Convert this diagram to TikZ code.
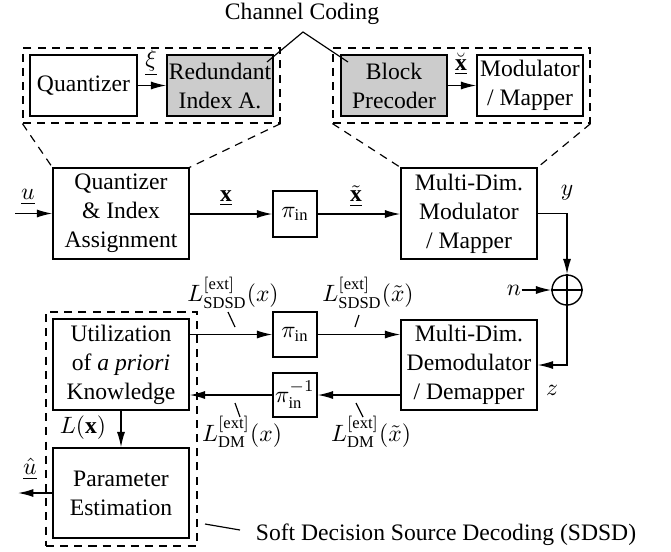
\documentclass[tikz,border=0pt]{standalone}
\usepackage{fontspec}
\setmainfont{Liberation Serif}
\usetikzlibrary{arrows.meta}
\begin{document}
\begin{tikzpicture}[x=0.4237pt,y=-0.4237pt,
  font=\fontsize{10}{12.3}\selectfont,
  box/.style 2 args={draw, line width=0.6pt, inner sep=0pt, align=center,
    minimum width={#1*0.4237pt}, minimum height={#2*0.4237pt}},
  graybox/.style 2 args={box={#1}{#2}, fill=black!20},
  dbox/.style 2 args={draw, dash pattern=on 3.4pt off 2.6pt, line width=0.5pt, inner sep=0pt,
    minimum width={#1*0.4237pt}, minimum height={#2*0.4237pt}},
  dline/.style={dash pattern=on 3.4pt off 2.6pt, line width=0.5pt},
  conn/.style={line width=0.6pt},
  arr/.style={conn, -{Latex[length=6.5pt,width=3.4pt]}},
  lbl/.style={inner sep=0pt},
  tick/.style={line width=0.5pt}
  ]
\useasboundingbox (0,0) rectangle (671,551);

% top detail boxes
\node[dbox={257}{75}] (dashL) at (151.5,85.5) {};
\node[dbox={257}{75}] (dashR) at (461.5,85.5) {};
\node[box={107}{61}] (qtop) at (83.5,85.5) {Quantizer};
\node[graybox={106}{61}] (ria) at (220,85.5) {Redundant\\Index A.};
\node[graybox={106}{61}] (bp) at (394,85.5) {Block\\Precoder};
\node[box={106}{61}] (mmtop) at (530,85.5) {Modulator\\/ Mapper};

\node[lbl] (cc) at (302,14) {Channel Coding};
\coordinate (apex) at (303,32);
\coordinate (ccL) at (267,62);
\coordinate (ccR) at (348,62);
\draw[tick] (ccL) -- (apex) -- (ccR);

\node[lbl] (xi) at (151,63) {$\underline{\xi}$};
\node[lbl] (xbr) at (461,64) {$\underline{\breve{\mathbf{x}}}$};
\draw[arr] (qtop.east |- ria.west) -- (ria.west);
\draw[arr] (bp.east |- mmtop.west) -- (mmtop.west);

% main transmitter row
\node[box={136}{91}] (qia) at (121,213.5) {Quantizer\\\& Index\\Assignment};
\node[box={44}{46}] (pi1) at (295,214) {$\pi_{\mathrm{in}}$};
\node[box={136}{91}] (mod) at (469,213.5) {Multi-Dim.\\Modulator\\/ Mapper};

\draw[dline] (dashL.south west) -- (qia.north west);
\draw[dline] (dashL.south east) -- (qia.north east);
\draw[dline] (dashR.south west) -- (mod.north west);
\draw[dline] (dashR.south east) -- (mod.north east);

\coordinate (uin) at (15,213.5);
\node[lbl] (u) at (28,197) {$\underline{u}$};
\node[lbl] (xl) at (226,198) {$\underline{\mathbf{x}}$};
\node[lbl] (xt) at (356,196) {$\underline{\tilde{\mathbf{x}}}$};
\node[lbl] (y) at (567,193) {$y$};
\draw[arr] (uin) -- (qia.west);
\draw[arr] (qia.east |- pi1.west) -- (pi1.west);
\draw[arr] (pi1.east) -- (pi1.east -| mod.west);

% channel
\node[draw, circle, minimum size=12.7pt, inner sep=0pt, line width=0.6pt] (plus) at (567,290) {};
\draw[conn] (plus.north) -- (plus.south) (plus.west) -- (plus.east);
\node[lbl] (n) at (514,290) {$n$};
\node[lbl] (z) at (552,390) {$z$};
\draw[arr] (mod.east) -- (mod.east -| plus) -- (plus.north);
\draw[arr] (n.east) -- (plus.west);

% receiver
\node[box={136}{90}] (demod) at (469,365) {Multi-Dim.\\Demodulator\\/ Demapper};
\draw[arr] (plus.south) -- (plus.south |- demod.east) -- (demod.east);

\node[box={44}{45}] (pi2) at (295,334.5) {$\pi_{\mathrm{in}}$};
\node[box={44}{44}] (pi3) at (295,395) {$\pi_{\mathrm{in}}^{-1}$};
\node[box={136}{91}] (util) at (121,364.5) {Utilization\\of \textit{a priori}\\Knowledge};
\node[box={136}{90}] (param) at (121,493) {Parameter\\Estimation};
\node[dbox={151}{234}] (dashB) at (121.5,429) {};

\draw[arr] (util.east |- pi2.west) -- (pi2.west);
\draw[arr] (pi2.east) -- (pi2.east -| demod.west);
\draw[arr] (demod.west |- pi3.east) -- (pi3.east);
\draw[arr] (pi3.west) -- (pi3.west -| util.east);
\draw[arr] (util.south) -- (param.north);
\coordinate (uout) at (18,493);
\draw[arr] (param.west) -- (uout);

\node[lbl] (Lx) at (83,428) {$L(\mathbf{x})$};
\node[lbl] (uh) at (30,469) {$\underline{\hat{u}}$};

\node[lbl] (ls1) at (233,293) {$L_{\mathrm{SDSD}}^{[\mathrm{ext}]}(x)$};
\node[lbl] (ls2) at (368,293) {$L_{\mathrm{SDSD}}^{[\mathrm{ext}]}(\tilde{x})$};
\node[lbl] (ld1) at (242,432) {$L_{\mathrm{DM}}^{[\mathrm{ext}]}(x)$};
\node[lbl] (ld2) at (371,432) {$L_{\mathrm{DM}}^{[\mathrm{ext}]}(\tilde{x})$};
\coordinate (t1a) at (228,312); \coordinate (t1b) at (235,327);
\coordinate (t2a) at (359,315); \coordinate (t2b) at (355,327);
\coordinate (t3a) at (235,403); \coordinate (t3b) at (240,417);
\coordinate (t4a) at (356,403); \coordinate (t4b) at (363,417);
\draw[tick] (t1a) -- (t1b);
\draw[tick] (t2a) -- (t2b);
\draw[tick] (t3a) -- (t3b);
\draw[tick] (t4a) -- (t4b);

\node[lbl] (sdsd) at (446,535) {Soft Decision Source Decoding (SDSD)};
\coordinate (sdA) at (205,524);
\coordinate (sdB) at (240,530);
\draw[tick] (sdA) -- (sdB);
\end{tikzpicture}
\end{document}
